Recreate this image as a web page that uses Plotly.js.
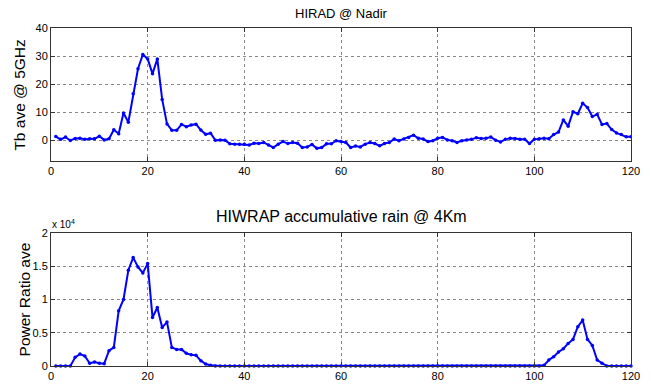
<!DOCTYPE html>
<html>
<head>
<meta charset="utf-8">
<script src="https://cdn.plot.ly/plotly-3.0.1.min.js"></script>
<style>html,body{margin:0;padding:0;background:#fff;}#chart{width:651px;height:386px;}</style>
</head>
<body>
<div id="chart"></div>
<script>
// Sample index (scan position)
const sampleIndex = Array.from({length: 120}, (_, i) => i + 1);

// HIRAD @ Nadir: Tb ave @ 5GHz
const tbAve = [
  1.4, 0.4, 1.2, 0, 0.7, 0.8, 0.4, 0.6, 0.6, 1.5,
  0.2, 0.6, 3.8, 2.4, 9.8, 6.5, 16.6, 25.5, 30.6, 29,
  23.7, 29, 14.6, 5.9, 3.6, 3.6, 5.7, 4.9, 5.5, 5.8,
  3.7, 2.2, 2.6, 0.1, 0.2, 0.1, -1.2, -1.3, -1.3, -1.3,
  -1.6, -1, -1.1, -0.7, -1.6, -2.5, -1.3, -0.4, -1.1, -0.7,
  -1, -2.5, -2.3, -1.4, -2.8, -2.5, -1.2, -1.2, -0.1, -0.4,
  -0.7, -2.5, -2, -2.3, -1.3, -0.7, -1.1, -1.9, -1.1, -0.7,
  0.5, -0.1, 0.5, 1.1, 1.9, 0.8, 0.5, -0.4, -0.1, 0.8,
  1.1, 0.2, -0.1, -0.7, -0.1, 0.2, 0.4, 1, 0.7, 0.8,
  1.2, 0.1, -0.5, 0.4, 0.8, 0.7, 0.4, 0.4, -1.1, 0.4,
  0.6, 0.8, 0.6, 2.1, 3, 7.3, 5.1, 10.2, 9.5, 13.2,
  11.7, 8.5, 9.3, 5.7, 6, 3.9, 2.7, 2.1, 1.3, 1.3
];

// HIWRAP accumulative rain @ 4Km: Power Ratio ave
const powerRatio = [
  0, 0, 0, 0, 1300, 1800, 1500, 400, 600, 400,
  350, 2300, 2800, 8300, 10000, 14400, 16300, 14900, 14000, 15400,
  7300, 8800, 5800, 6600, 2800, 2500, 2500, 1900, 1700, 1600,
  800, 300, 100, 0, 0, 0, 0, 0, 0, 0,
  0, 0, 0, 0, 0, 0, 0, 0, 0, 0,
  0, 0, 0, 0, 0, 0, 0, 0, 0, 0,
  0, 0, 0, 0, 0, 0, 0, 0, 0, 0,
  0, 0, 0, 0, 0, 0, 0, 0, 0, 0,
  0, 0, 0, 0, 0, 0, 0, 0, 0, 0,
  0, 0, 0, 0, 0, 0, 0, 0, 0, 0,
  0, 100, 900, 1400, 2100, 2600, 3400, 4000, 5900, 6900,
  4000, 3100, 900, 400, 0, 0, 0, 0, 0, 0
];

// Tick labels
const xTicks = [0, 20, 40, 60, 80, 100, 120];
const tbTicks = [0, 10, 20, 30, 40];
const prTickVals = [0, 5000, 10000, 15000, 20000];
const prTickText = ['0', '0.5', '1', '1.5', '2'];

const FONT = 'Liberation Sans, Arial, Helvetica, sans-serif';

const lineStyle = {color: 'rgb(0,0,255)', width: 2};
const markerStyle = {color: 'rgb(0,0,255)', size: 3.5};

const traces = [
  {x: sampleIndex, y: tbAve, type: 'scatter', mode: 'lines+markers',
   line: lineStyle, marker: markerStyle, xaxis: 'x', yaxis: 'y'},
  {x: sampleIndex, y: powerRatio, type: 'scatter', mode: 'lines+markers',
   line: lineStyle, marker: markerStyle, xaxis: 'x2', yaxis: 'y2', cliponaxis: false}
];

const axisCommon = {
  showline: true, linecolor: '#333', linewidth: 1, mirror: 'ticks',
  ticks: 'inside', ticklen: 4, tickcolor: '#333',
  showgrid: true, gridcolor: '#888', griddash: 'dot', gridwidth: 1,
  zeroline: false, tickfont: {family: FONT, size: 11, color: '#000'}
};

const layout = {
  width: 651, height: 386,
  margin: {l: 51, r: 20, t: 28, b: 20},
  paper_bgcolor: '#fff', plot_bgcolor: '#fff',
  showlegend: false,
  font: {family: FONT, color: '#000'},
  xaxis: Object.assign({}, axisCommon, {domain: [0, 1], range: [0, 120], tickvals: xTicks, anchor: 'y'}),
  yaxis: Object.assign({}, axisCommon, {domain: [0.6065, 1], range: [-7.3, 40], tickvals: tbTicks, anchor: 'x'}),
  xaxis2: Object.assign({}, axisCommon, {domain: [0, 1], range: [0, 120], tickvals: xTicks, anchor: 'y2'}),
  yaxis2: Object.assign({}, axisCommon, {domain: [0, 0.3935], range: [0, 20000], tickvals: prTickVals, ticktext: prTickText, anchor: 'x2'}),
  annotations: [
    {text: 'HIRAD @ Nadir', xref: 'paper', yref: 'paper', x: 0.5, y: 1, yshift: 15,
     showarrow: false, font: {family: FONT, size: 13}, xanchor: 'center', yanchor: 'middle'},
    {text: 'HIWRAP accumulative rain @ 4Km', xref: 'paper', yref: 'paper', x: 0.5, y: 0.3935, yshift: 16,
     showarrow: false, font: {family: FONT, size: 16}, xanchor: 'center', yanchor: 'middle'},
    {text: 'Tb ave @ 5GHz', xref: 'paper', yref: 'paper', x: 0, xshift: -31, y: 0.8, textangle: -90,
     showarrow: false, font: {family: FONT, size: 15.5}, xanchor: 'center', yanchor: 'middle'},
    {text: 'Power Ratio ave', xref: 'paper', yref: 'paper', x: 0, xshift: -27, y: 0.197, textangle: -90,
     showarrow: false, font: {family: FONT, size: 15.5}, xanchor: 'center', yanchor: 'middle'},
    {text: 'x 10<sup>4</sup>', xref: 'paper', yref: 'paper', x: 0, xshift: -1, y: 0.3935, yshift: 9,
     showarrow: false, font: {family: FONT, size: 10}, xanchor: 'left', yanchor: 'middle'}
  ]
};

Plotly.newPlot('chart', traces, layout, {staticPlot: true, displayModeBar: false});
</script>
</body>
</html>
